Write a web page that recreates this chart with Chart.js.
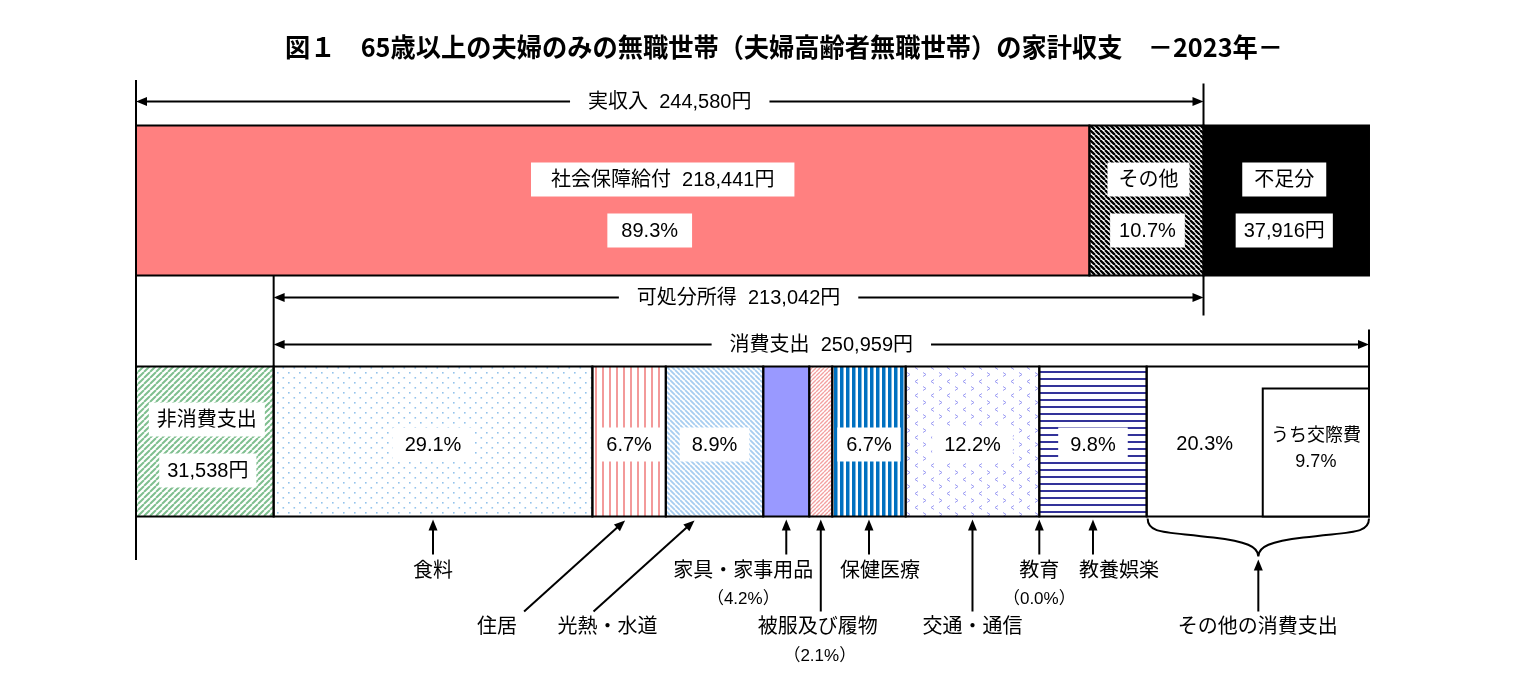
<!DOCTYPE html>
<html lang="ja">
<head>
<meta charset="utf-8">
<title>図１ 家計収支 2023年</title>
<script src="https://cdn.jsdelivr.net/npm/chart.js@4.4.1/dist/chart.umd.min.js"></script>
<style>
  html, body { margin: 0; padding: 0; background: #fff; }
  #wrap { width: 1520px; height: 690px; position: relative; }
</style>
</head>
<body>
<div id="wrap"><canvas id="kakei"></canvas></div>
<script>
// データ
const rowLabels = ['収入', '支出'];
const incomeLabels = ['社会保障給付', 'その他', '不足分'];
const incomeValues = [218441, 26139, 37916];
const nonConsumptionLabel = '非消費支出';
const nonConsumptionValue = 31538;
const consumptionTotal = 250959;
const consumptionLabels = ['食料', '住居', '光熱・水道', '家具・家事用品', '被服及び履物', '保健医療', '交通・通信', '教育', '教養娯楽', 'その他の消費支出'];
const consumptionShares = [29.1, 6.7, 8.9, 4.2, 2.1, 6.7, 12.2, 0.0, 9.8, 20.3];
const kousaihiShare = 9.7;
const titleText = '図１　65歳以上の夫婦のみの無職世帯（夫婦高齢者無職世帯）の家計収支　－2023年－';

const realIncome = incomeValues[0] + incomeValues[1];
const disposable = realIncome - nonConsumptionValue;
const grandTotal = nonConsumptionValue + consumptionTotal;

const FONT = '"Liberation Sans", "Noto Sans CJK JP", sans-serif';
const yen = v => v.toLocaleString('en-US') + '円';
const pct = v => v.toFixed(1) + '%';

// 模様
function pattern(w, h, draw) {
  const c = document.createElement('canvas');
  c.width = w; c.height = h;
  const g = c.getContext('2d');
  g.fillStyle = '#fff';
  g.fillRect(0, 0, w, h);
  draw(g);
  return g.createPattern(c, 'repeat');
}
function diag(color, p, lw, dir) { // dir 1 = '/', -1 = '\'
  return pattern(p, p, g => {
    g.strokeStyle = color; g.lineWidth = lw;
    g.beginPath();
    for (let k = -1; k <= 1; k++) {
      if (dir > 0) { g.moveTo(k * p, p); g.lineTo(k * p + p, 0); }
      else { g.moveTo(k * p, 0); g.lineTo(k * p + p, p); }
    }
    g.stroke();
  });
}
const vstripe = (color, p, lw) => pattern(p, 4, g => { g.fillStyle = color; g.fillRect(0, 0, lw, 4); });
const hstripe = (color, p, lw) => pattern(4, p, g => { g.fillStyle = color; g.fillRect(0, 0, 4, lw); });
const dots = pattern(11, 10, g => { g.fillStyle = '#93c3ec'; g.fillRect(2, 2, 1.6, 1.6); g.fillRect(7.5, 7, 1.6, 1.6); });
const chevrons = pattern(16, 14, g => {
  g.strokeStyle = '#9c9cf4'; g.lineWidth = 1;
  g.beginPath();
  g.moveTo(6, 1.5); g.lineTo(3, 3.5); g.lineTo(6, 5.5);
  g.moveTo(11, 8.5); g.lineTo(14, 10.5); g.lineTo(11, 12.5);
  g.stroke();
});

const incomeFills = ['#ff8080', diag('#000', 5, 2.3, -1), '#000'];
const ncFill = diag('#7fbf8f', 6, 2, 1);
const consFills = [
  dots, vstripe('#f39a9a', 7, 2), diag('#a7cdf0', 5, 1.8, -1), '#9999ff', diag('#f3a0a0', 4, 1.4, 1),
  vstripe('#0070c0', 6, 3.5), chevrons, '#fff', hstripe('#333399', 7, 2), '#fff'
];

const datasets = [];
const barOpts = { barPercentage: 150 / 241, categoryPercentage: 1, borderWidth: 0 };
incomeLabels.forEach((l, i) => datasets.push({ label: l, data: [incomeValues[i], null], backgroundColor: incomeFills[i], row: 0, ...barOpts }));
datasets.push({ label: nonConsumptionLabel, data: [null, nonConsumptionValue], backgroundColor: ncFill, row: 1, ...barOpts });
consumptionLabels.forEach((l, i) => datasets.push({
  label: l, data: [null, consumptionShares[i] * consumptionTotal / 100], backgroundColor: consFills[i], row: 1, ...barOpts
}));

// 下の注記 (消費支出の項目ごと)
const notes = [
  { kind: 'short', tx: 0, sub: null },
  { kind: 'diag', tipDx: -4, tx: -132, sub: null },
  { kind: 'diag', tipDx: -20, tx: -107, sub: null },
  { kind: 'short', tx: -43, sub: true },
  { kind: 'long', tx: -3, sub: true },
  { kind: 'short', tx: 11, sub: null },
  { kind: 'long', tx: 0, sub: null },
  { kind: 'short', tx: 0, sub: true },
  { kind: 'short', tx: 26, sub: null },
  { kind: 'brace', tx: 0, sub: null }
];

function arrowHead(ctx, x, y, ang, len = 11, hw = 4.5) {
  ctx.save();
  ctx.translate(x, y); ctx.rotate(ang);
  ctx.beginPath();
  ctx.moveTo(0, 0); ctx.lineTo(-len, -hw); ctx.lineTo(-len, hw);
  ctx.closePath(); ctx.fill();
  ctx.restore();
}
function arrow(ctx, x1, y1, x2, y2) {
  const ang = Math.atan2(y2 - y1, x2 - x1);
  ctx.beginPath();
  ctx.moveTo(x1, y1);
  ctx.lineTo(x2 - Math.cos(ang) * 8, y2 - Math.sin(ang) * 8);
  ctx.stroke();
  arrowHead(ctx, x2, y2, ang);
}
function line(ctx, x1, y1, x2, y2) {
  ctx.beginPath(); ctx.moveTo(x1, y1); ctx.lineTo(x2, y2); ctx.stroke();
}

const drawing = {
  id: 'drawing',
  afterDatasetsDraw(chart) {
    const { ctx, chartArea: ca, scales: { x } } = chart;
    const seg = chart.data.datasets.map((ds, i) => {
      const p = chart.getDatasetMeta(i).data[ds.row].getProps(['x', 'base', 'y', 'height'], true);
      return { l: Math.min(p.x, p.base), r: Math.max(p.x, p.base), t: p.y - p.height / 2, b: p.y + p.height / 2, cx: (p.x + p.base) / 2, cy: p.y };
    });
    const inc = seg.slice(0, 3), nc = seg[3], cons = seg.slice(4);

    ctx.save();
    ctx.strokeStyle = '#000'; ctx.fillStyle = '#000'; ctx.lineWidth = 2;
    ctx.textAlign = 'center'; ctx.textBaseline = 'middle';

    // 枠線
    seg.forEach(s => { if (s.r - s.l > 0.5) ctx.strokeRect(s.l, s.t, s.r - s.l, s.b - s.t); });

    // うち交際費
    const oth = cons[9];
    const kx = x.getPixelForValue(grandTotal - kousaihiShare * consumptionTotal / 100);
    ctx.fillStyle = '#fff';
    ctx.fillRect(kx, oth.t + 22, oth.r - kx, oth.b - oth.t - 22);
    ctx.strokeRect(kx, oth.t + 22, oth.r - kx, oth.b - oth.t - 22);
    ctx.fillStyle = '#000';
    ctx.font = '18px ' + FONT;
    ctx.fillText('うち交際費', (kx + oth.r) / 2, oth.cy - 5);
    ctx.fillText(pct(kousaihiShare), (kx + oth.r) / 2, oth.cy + 21);

    // ラベル (白い箱)
    ctx.font = '20px ' + FONT;
    const tag = (text, cx, cy, pad, maxW = 9999) => {
      const w = ctx.measureText(text).width;
      const bw = Math.min(w + 2 * pad, maxW);
      ctx.fillStyle = '#fff';
      ctx.fillRect(cx - bw / 2, cy - 17, bw, 34);
      ctx.fillStyle = '#000';
      ctx.fillText(text, cx, cy + 1);
    };
    tag(`${incomeLabels[0]}  ${yen(incomeValues[0])}`, inc[0].cx + 50, inc[0].cy - 21, 20);
    tag(pct(incomeValues[0] / realIncome * 100), inc[0].cx + 37, inc[0].cy + 30, 14);
    tag(incomeLabels[1], inc[1].cx + 2, inc[1].cy - 21, 11);
    tag(pct(incomeValues[1] / realIncome * 100), inc[1].cx + 1, inc[1].cy + 30, 9);
    tag(incomeLabels[2], inc[2].cx - 2, inc[2].cy - 21, 12);
    tag(yen(incomeValues[2]), inc[2].cx - 2, inc[2].cy + 30, 8);
    tag(nonConsumptionLabel, nc.cx + 2, nc.cy - 22, 8);
    tag(yen(nonConsumptionValue), nc.cx + 3, nc.cy + 29, 8);
    cons.forEach((s, i) => {
      if (notes[i].sub) return; // 割合は下に書く
      if (i === 9) {
        ctx.fillText(pct(consumptionShares[i]), (s.l + kx) / 2, s.cy + 3);
        return;
      }
      tag(pct(consumptionShares[i]), s.cx, s.cy + 3, 12, s.r - s.l - 10);
    });

    // 補助線
    const x0 = x.getPixelForValue(0), xInc = x.getPixelForValue(realIncome);
    const xNc = x.getPixelForValue(nonConsumptionValue), xTot = x.getPixelForValue(grandTotal);
    const incTop = inc[0].t, incBot = inc[0].b, expTop = nc.t, expBot = nc.b;
    line(ctx, x0, ca.top, x0, ca.bottom - 2);
    line(ctx, xInc, incTop - 42, xInc, incTop);
    line(ctx, xInc, incBot, xInc, incBot + 40);
    line(ctx, xTot, expTop - 37, xTot, expTop);
    line(ctx, xNc, incBot, xNc, expTop);

    // 寸法線
    const dim = (a, b, y, text) => {
      const cx = (a + b) / 2;
      const w = ctx.measureText(text).width;
      ctx.fillText(text, cx, y + 1);
      line(ctx, a + 8, y, cx - w / 2 - 18, y);
      line(ctx, cx + w / 2 + 18, y, b - 8, y);
      arrowHead(ctx, a, y, Math.PI);
      arrowHead(ctx, b, y, 0);
    };
    dim(x0, xInc, incTop - 24, `実収入  ${yen(realIncome)}`);
    dim(xNc, xInc, incBot + 22, `可処分所得  ${yen(disposable)}`);
    dim(xNc, xTot, expTop - 22, `消費支出  ${yen(consumptionTotal)}`);

    // 下の注記
    const tipY = expBot + 3, shortY = expBot + 38, longY = expBot + 95;
    const row1 = expBot + 55, sub1 = expBot + 83, row2 = expBot + 111, sub2 = expBot + 140;
    cons.forEach((s, i) => {
      const n = notes[i];
      const cx = s.cx;
      let ty = row1, sy = sub1;
      if (n.kind === 'short') arrow(ctx, cx, shortY, cx, tipY);
      if (n.kind === 'long') { arrow(ctx, cx, longY, cx, tipY); ty = row2; sy = sub2; }
      if (n.kind === 'diag') {
        arrow(ctx, cx + n.tipDx - 101, longY, cx + n.tipDx, tipY + 1);
        ty = row2;
      }
      if (n.kind === 'brace') {
        const l = s.l + 1, r = s.r, m = (l + r) / 2, by = expBot + 2;
        ctx.beginPath();
        ctx.moveTo(l, by);
        ctx.bezierCurveTo(l, by + 16, l + 20, by + 13, m - 45, by + 19);
        ctx.bezierCurveTo(m - 12, by + 23, m, by + 28, m, by + 38);
        ctx.moveTo(r, by);
        ctx.bezierCurveTo(r, by + 16, r - 20, by + 13, m + 45, by + 19);
        ctx.bezierCurveTo(m + 12, by + 23, m, by + 28, m, by + 38);
        ctx.stroke();
        arrow(ctx, m, longY, m, by + 41);
        ty = row2;
      }
      ctx.font = '20px ' + FONT;
      ctx.fillText(consumptionLabels[i], cx + n.tx, ty);
      if (n.sub) {
        ctx.font = '17px ' + FONT;
        ctx.fillText(`（${pct(consumptionShares[i])}）`, cx + n.tx + (n.kind === 'long' ? 2 : 0), sy);
      }
    });

    // タイトル
    ctx.font = 'bold 26px "Noto Sans CJK JP", sans-serif';
    ctx.fillText(titleText, 784, 47, 998);
    ctx.restore();
  }
};

new Chart(document.getElementById('kakei'), {
  type: 'bar',
  data: { labels: rowLabels, datasets },
  options: {
    indexAxis: 'y',
    responsive: true,
    maintainAspectRatio: false,
    animation: false,
    events: [],
    layout: { padding: { left: 136, right: 151, top: 80, bottom: 128 } },
    scales: {
      x: { stacked: true, min: 0, max: grandTotal, display: false },
      y: { stacked: true, display: false }
    },
    plugins: { legend: { display: false }, tooltip: { enabled: false } }
  },
  plugins: [drawing]
});
</script>
</body>
</html>
